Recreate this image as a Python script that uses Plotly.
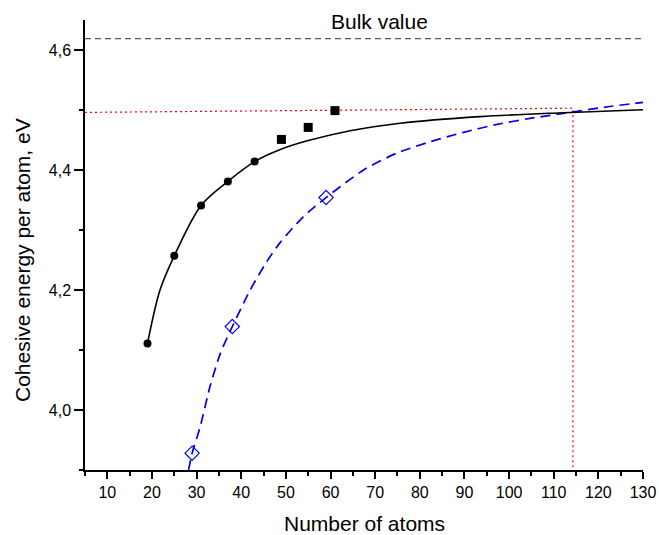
import plotly.graph_objects as go

# Data
circles_n = [19, 25, 31, 37, 43]
circles_e = [4.111, 4.257, 4.341, 4.381, 4.414]

squares_n = [49, 55, 61]
squares_e = [4.451, 4.471, 4.499]

diamonds_n = [29, 38, 59]
diamonds_e = [3.928, 4.139, 4.354]

fit_black_n = [19, 21.8, 25, 31, 37, 43, 48.9, 55, 64.4, 75.6, 93.5, 112.2, 130]
fit_black_e = [4.111, 4.200, 4.257, 4.341, 4.381, 4.414, 4.4345, 4.449, 4.4655, 4.478, 4.489, 4.4955, 4.5005]

fit_blue_n = [28.2, 29, 30.8, 33, 35.3, 38, 42, 45.7, 48.7, 53.9, 59, 67.4, 74.8, 82.3, 89.8, 97.3, 104.7, 113.7, 121.2, 130]
fit_blue_e = [3.900, 3.928, 3.972, 4.039, 4.094, 4.139, 4.200, 4.247, 4.279, 4.322, 4.354, 4.400, 4.428, 4.447, 4.4628, 4.476, 4.486, 4.496, 4.5045, 4.5128]

bulk_value = 4.619
cross_n = 114.3
cross_e_left = 4.496
cross_e_right = 4.503

x_range = [5, 130]
y_range = [3.9, 4.65]

FONT = "Liberation Sans, Arial, sans-serif"
L, R, T, B = 85, 16, 20, 65
W, H = 659, 535
pw, ph = W - L - R, H - T - B

fig = go.Figure()

fig.add_trace(go.Scatter(x=[x_range[0], x_range[1]], y=[bulk_value, bulk_value], mode="lines",
                         line=dict(color="#555555", width=1.3, dash="6px,4px"), hoverinfo="skip"))
fig.add_trace(go.Scatter(x=[x_range[0], cross_n, cross_n], y=[cross_e_left, cross_e_right, y_range[0]],
                         mode="lines", line=dict(color="red", width=1.2, dash="2px,3px"), hoverinfo="skip"))
fig.add_trace(go.Scatter(x=fit_blue_n, y=fit_blue_e, mode="lines",
                         line=dict(color="#0000ee", width=1.7, dash="10px,6px", shape="spline", smoothing=0.7)))
fig.add_trace(go.Scatter(x=fit_black_n, y=fit_black_e, mode="lines",
                         line=dict(color="black", width=1.6, shape="spline", smoothing=0.9)))
fig.add_trace(go.Scatter(x=circles_n, y=circles_e, mode="markers",
                         marker=dict(symbol="circle", size=8, color="black")))
fig.add_trace(go.Scatter(x=squares_n, y=squares_e, mode="markers",
                         marker=dict(symbol="square", size=9, color="black")))
fig.add_trace(go.Scatter(x=diamonds_n, y=diamonds_e, mode="markers",
                         marker=dict(symbol="diamond-open", size=11, color="#0000ee", line=dict(width=1.2))))

fig.add_annotation(x=71, y=4.648, text="Bulk value", showarrow=False, xref="x", yref="y",
                   xanchor="center", yanchor="middle",
                   font=dict(size=21, color="black", family=FONT))
fig.add_annotation(x=(364 - L) / pw, y=(H - B - 523) / ph, text="Number of atoms", showarrow=False,
                   xref="paper", yref="paper", xanchor="center", yanchor="middle",
                   font=dict(size=21, color="black", family=FONT))
fig.add_annotation(x=(22 - L) / pw, y=(H - B - 260) / ph, text="Cohesive energy per atom, eV", showarrow=False,
                   textangle=-90, xref="paper", yref="paper", xanchor="center", yanchor="middle",
                   font=dict(size=21, color="black", family=FONT))

axis_font = dict(family=FONT, size=16, color="black")
fig.update_layout(
    width=W, height=H,
    margin=dict(l=L, r=R, t=T, b=B, autoexpand=False),
    plot_bgcolor="white", paper_bgcolor="white",
    showlegend=False,
    separators=", ",
    font=dict(family=FONT, color="black"),
    xaxis=dict(range=x_range, tick0=10, dtick=10, ticks="outside", ticklen=7, tickwidth=1.5,
               tickcolor="black", showline=True, linecolor="black", linewidth=1.5,
               showgrid=False, zeroline=False, tickfont=axis_font, automargin=False,
               minor=dict(tick0=5, dtick=5, ticks="outside", ticklen=4, tickwidth=1.5, tickcolor="black", showgrid=False)),
    yaxis=dict(range=y_range, tick0=4.0, dtick=0.2, ticks="outside", ticklen=9, tickwidth=1.5,
               tickcolor="black", showline=True, linecolor="black", linewidth=1.5,
               showgrid=False, zeroline=False, tickformat=".1f", tickfont=axis_font, automargin=False,
               minor=dict(tick0=3.9, dtick=0.1, ticks="outside", ticklen=4, tickwidth=1.5, tickcolor="black", showgrid=False)),
)

fig.write_html("out.html", config={"displayModeBar": False},
               post_script="document.body.style.margin='0px';")
